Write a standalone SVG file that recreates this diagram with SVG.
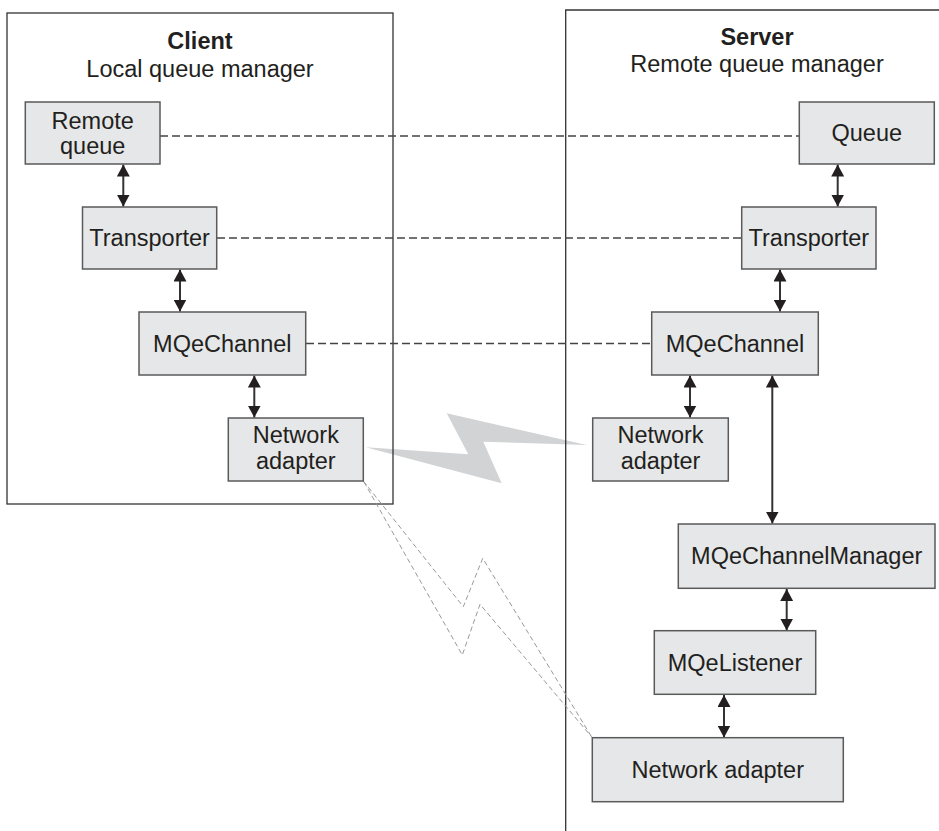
<svg xmlns="http://www.w3.org/2000/svg" width="939" height="831" viewBox="0 0 939 831">
<defs>
<style>
.box{fill:#e6e7e8;stroke:#5a5a5a;stroke-width:1.5}
.t{font-family:"Liberation Sans",Arial,sans-serif;font-size:23.5px;fill:#231f20;text-anchor:middle}
.b{font-weight:bold}
.cont{fill:none;stroke:#333;stroke-width:1.3}
.dash{stroke:#444;stroke-width:1.3;stroke-dasharray:8 4;fill:none}
.ldash{stroke:#999;stroke-width:1;stroke-dasharray:5 3;fill:none}
.arr{stroke:#333;stroke-width:2;fill:none;marker-start:url(#ah);marker-end:url(#ah)}
</style>
<marker id="ah" viewBox="0 0 12 13" refX="12" refY="6.5" markerWidth="12" markerHeight="13" markerUnits="userSpaceOnUse" orient="auto-start-reverse">
<path d="M0,0 L12,6.5 L0,13 Z" fill="#231f20"/>
</marker>
</defs>
<rect width="939" height="831" fill="#fff"/>
<g id="bolt">
<polygon points="365.7,447.3 468.3,454.3 446.7,413.3 586.7,445 483.3,441.7 501.7,483.3" fill="#d1d3d4"/>
</g>
<g id="client">
<rect class="cont" x="7" y="13" width="386" height="491"/>
<text class="t b" x="200" y="49">Client</text>
<text class="t" x="200" y="77">Local queue manager</text>
</g>
<g id="server">
<path class="cont" d="M565.7,831 V10 H940"/>
<text class="t b" x="757" y="45">Server</text>
<text class="t" x="757" y="72">Remote queue manager</text>
</g>
<g id="connectors">
<line class="dash" x1="160" y1="136" x2="799" y2="136"/>
<line class="dash" x1="217" y1="238" x2="742" y2="238"/>
<line class="dash" x1="306" y1="343.5" x2="652" y2="343.5"/>
<polyline class="ldash" points="363.3,481 463.3,606.7 482.7,558.3 591.7,737"/>
<polyline class="ldash" points="364,482 462.3,655 480,604.3 591.7,737"/>
<line class="arr" x1="123.3" y1="164.5" x2="123.3" y2="206.5"/>
<line class="arr" x1="180" y1="269.5" x2="180" y2="311.5"/>
<line class="arr" x1="254.3" y1="375.5" x2="254.3" y2="417.5"/>
<line class="arr" x1="837.7" y1="164.5" x2="837.7" y2="206.5"/>
<line class="arr" x1="780" y1="269.5" x2="780" y2="311.5"/>
<line class="arr" x1="690" y1="375.5" x2="690" y2="417.5"/>
<line class="arr" x1="772.3" y1="375.5" x2="772.3" y2="523.5"/>
<line class="arr" x1="786.7" y1="589" x2="786.7" y2="630.5"/>
<line class="arr" x1="724" y1="695" x2="724" y2="737.5"/>
</g>
<g id="remote-queue">
<rect class="box" x="25.3" y="102" width="134.7" height="62"/>
<text class="t" x="92.7" y="128.5">Remote</text>
<text class="t" x="92.7" y="153.5">queue</text>
</g>
<g id="client-transporter">
<rect class="box" x="82.5" y="207" width="134.2" height="62"/>
<text class="t" x="149.6" y="246">Transporter</text>
</g>
<g id="client-mqechannel">
<rect class="box" x="139" y="312" width="166.7" height="63"/>
<text class="t" x="222.3" y="351.5">MQeChannel</text>
</g>
<g id="client-network-adapter">
<rect class="box" x="228.3" y="418" width="135" height="63"/>
<text class="t" x="295.8" y="443">Network</text>
<text class="t" x="295.8" y="468.5">adapter</text>
</g>
<g id="server-queue">
<rect class="box" x="799.3" y="102" width="135" height="62"/>
<text class="t" x="866.8" y="141">Queue</text>
</g>
<g id="server-transporter">
<rect class="box" x="741.7" y="207" width="134.3" height="62"/>
<text class="t" x="808.8" y="246">Transporter</text>
</g>
<g id="server-mqechannel">
<rect class="box" x="651.7" y="312" width="166.6" height="63"/>
<text class="t" x="735" y="351.5">MQeChannel</text>
</g>
<g id="server-network-adapter">
<rect class="box" x="592.7" y="418" width="135.6" height="63"/>
<text class="t" x="660.5" y="443">Network</text>
<text class="t" x="660.5" y="468.5">adapter</text>
</g>
<g id="mqechannelmanager">
<rect class="box" x="678.3" y="524" width="256.7" height="64.3"/>
<text class="t" x="806.7" y="564">MQeChannelManager</text>
</g>
<g id="mqelistener">
<rect class="box" x="654.3" y="630.7" width="161.4" height="63.6"/>
<text class="t" x="735" y="670.5">MQeListener</text>
</g>
<g id="network-adapter-bottom">
<rect class="box" x="592.3" y="737.7" width="251" height="64"/>
<text class="t" x="717.8" y="777.5">Network adapter</text>
</g>
</svg>
